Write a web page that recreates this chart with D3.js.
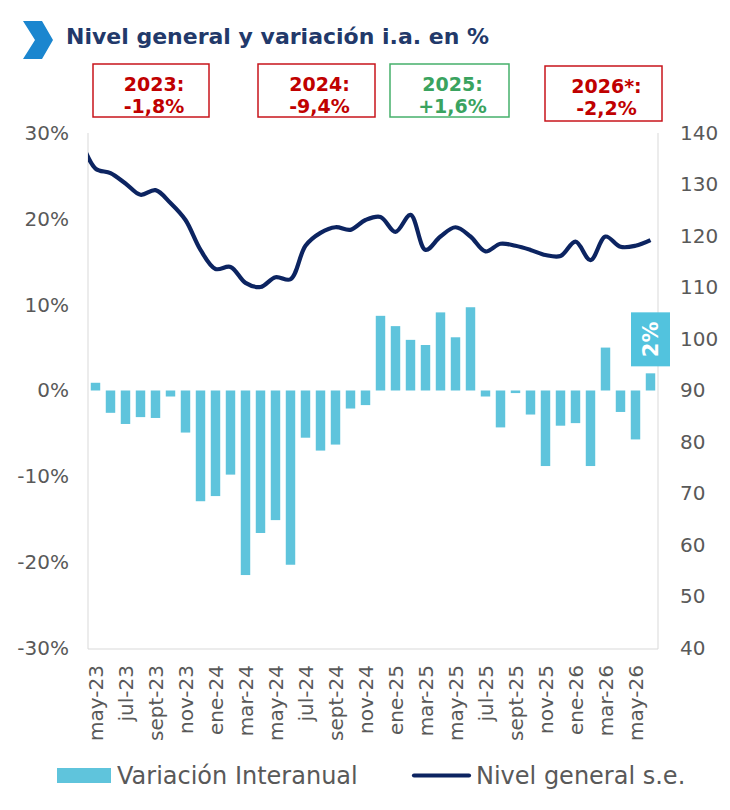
<!DOCTYPE html>
<html>
<head>
<meta charset="utf-8">
<script src="https://d3js.org/d3.v7.min.js"></script>
<style>
  html, body { margin: 0; padding: 0; background: #fff; }
  svg { display: block; font-family: "DejaVu Sans", sans-serif; }
</style>
</head>
<body>
<script>
// months shown on the category axis (every other one gets a label)
const months = [
  "may-23","jun-23","jul-23","ago-23","sept-23","oct-23","nov-23","dic-23",
  "ene-24","feb-24","mar-24","abr-24","may-24","jun-24","jul-24","ago-24","sept-24","oct-24","nov-24","dic-24",
  "ene-25","feb-25","mar-25","abr-25","may-25","jun-25","jul-25","ago-25","sept-25","oct-25","nov-25","dic-25",
  "ene-26","feb-26","mar-26","abr-26","may-26","jun-26"
];

// Variación interanual (%)
const variacion = [
  0.9, -2.6, -3.9, -3.1, -3.2, -0.7, -4.9, -12.9,
  -12.3, -9.8, -21.5, -16.6, -15.1, -20.3, -5.5, -7.0, -6.3, -2.1, -1.7, 8.7,
  7.5, 5.9, 5.3, 9.1, 6.2, 9.7, -0.7, -4.3, -0.3, -2.8, -8.8, -4.1,
  -3.8, -8.8, 5.0, -2.5, -5.7, 2.0
];

// Nivel general s.e. (índice), starts one month earlier (abr-23), clipped at the axis
const nivelStart = "abr-23";
const nivel = [
  138.8,
  133.1, 132.2, 130.2, 128.0, 128.9, 126.4, 123.1, 117.3,
  113.6, 114.0, 110.9, 110.1, 112.0, 111.6, 118.1, 120.6, 121.7, 121.2, 123.1, 123.7,
  120.8, 124.1, 117.3, 119.9, 121.7, 119.9, 117.0, 118.5, 118.1, 117.3, 116.3, 116.1,
  118.9, 115.3, 119.9, 117.9, 118.1, 119.2
];

const leftTicks = [-30, -20, -10, 0, 10, 20, 30];
const rightTicks = [40, 50, 60, 70, 80, 90, 100, 110, 120, 130, 140];

const yearBoxes = [
  {year: "2023:", value: "-1,8%", positive: false},
  {year: "2024:", value: "-9,4%", positive: false},
  {year: "2025:", value: "+1,6%", positive: true},
  {year: "2026*:", value: "-2,2%", positive: false}
];
// box left/right/top/bottom edges in the original layout
const boxEdges = [[93, 209, 64, 117], [258, 375, 64, 117], [390, 509, 64, 117], [545, 662, 66, 121]];

const width = 730, height = 810;
const plot = {left: 88, right: 658, top: 133, bottom: 648};

const barColor = "#5fc4dc";
const lineColor = "#0c2461";
const textColor = "#595959";
const frameColor = "#d9d9d9";

const svg = d3.select("body").append("svg")
  .attr("width", width)
  .attr("height", height);

// scales
const x = d3.scaleBand()
  .domain(months)
  .range([plot.left, plot.right])
  .paddingInner(0.37)
  .paddingOuter(0.185);

const xLine = d3.scalePoint()
  .domain([nivelStart].concat(months))
  .range([x(months[0]) + x.bandwidth() / 2 - x.step(), x(months[months.length - 1]) + x.bandwidth() / 2]);

const yL = d3.scaleLinear().domain([-30, 30]).range([plot.bottom, plot.top]);
const yR = d3.scaleLinear().domain([40, 140]).range([plot.bottom, plot.top]);

// title
svg.append("path")
  .attr("d", "M23,21 L42,21 L53,40 L42,59 L23,59 L35,40 Z")
  .attr("fill", "#1b86cf");
svg.append("text")
  .attr("x", 66).attr("y", 44)
  .attr("font-size", 22)
  .attr("font-weight", "bold")
  .attr("fill", "#22396a")
  .text("Nivel general y variación i.a. en %");

// year boxes
yearBoxes.forEach((b, i) => {
  const [x0, x1, y0, y1] = boxEdges[i];
  const col = b.positive ? "#3aa35f" : "#c00000";
  const g = svg.append("g");
  g.append("rect")
    .attr("x", x0).attr("y", y0)
    .attr("width", x1 - x0).attr("height", y1 - y0)
    .attr("fill", "#fff")
    .attr("stroke", b.positive ? "#46b06b" : "#c8141b")
    .attr("stroke-width", 1.5);
  const cx = (x0 + x1) / 2 + 3;
  g.append("text")
    .attr("x", cx).attr("y", y0 + 27)
    .attr("text-anchor", "middle")
    .attr("font-size", 19).attr("font-weight", "bold")
    .attr("fill", col)
    .text(b.year);
  g.append("text")
    .attr("x", cx).attr("y", y0 + 49)
    .attr("text-anchor", "middle")
    .attr("font-size", 19).attr("font-weight", "bold")
    .attr("fill", col)
    .text(b.value);
});

// frame
svg.append("line")
  .attr("x1", plot.left).attr("x2", plot.left)
  .attr("y1", plot.top).attr("y2", plot.bottom + 1)
  .attr("stroke", frameColor);
svg.append("line")
  .attr("x1", plot.right).attr("x2", plot.right)
  .attr("y1", plot.top).attr("y2", plot.bottom + 1)
  .attr("stroke", frameColor);
svg.append("line")
  .attr("x1", plot.left).attr("x2", plot.right)
  .attr("y1", plot.bottom + 1).attr("y2", plot.bottom + 1)
  .attr("stroke", frameColor);

// left axis
const leftAxis = svg.append("g")
  .attr("transform", `translate(${plot.left - 19},0)`)
  .call(d3.axisLeft(yL).tickValues(leftTicks).tickSize(0).tickFormat(d => d + "%"));
leftAxis.select(".domain").remove();
leftAxis.selectAll("text")
  .attr("font-family", "DejaVu Sans, sans-serif")
  .attr("font-size", 20)
  .attr("fill", textColor)
  .attr("x", 0);

// right axis
const rightAxis = svg.append("g")
  .attr("transform", `translate(${plot.right + 22},0)`)
  .call(d3.axisRight(yR).tickValues(rightTicks).tickSize(0));
rightAxis.select(".domain").remove();
rightAxis.selectAll("text")
  .attr("font-family", "DejaVu Sans, sans-serif")
  .attr("font-size", 20)
  .attr("fill", textColor)
  .attr("x", 0);

// x axis labels
const bottomAxis = svg.append("g")
  .attr("transform", `translate(0,${plot.bottom + 17})`)
  .call(d3.axisBottom(x)
    .tickValues(months.filter((m, i) => i % 2 === 0))
    .tickSize(0));
bottomAxis.select(".domain").remove();
bottomAxis.selectAll("text")
  .attr("font-family", "DejaVu Sans, sans-serif")
  .attr("font-size", 20)
  .attr("fill", textColor)
  .attr("text-anchor", "end")
  .attr("transform", "rotate(-90)")
  .attr("x", 0)
  .attr("y", 0)
  .attr("dy", "0.36em");

// bars
svg.append("g").selectAll("rect")
  .data(variacion)
  .join("rect")
  .attr("x", (d, i) => x(months[i]))
  .attr("width", x.bandwidth())
  .attr("y", d => yL(Math.max(0, d)))
  .attr("height", d => Math.abs(yL(d) - yL(0)))
  .attr("fill", barColor);

// line (clipped to the plot area)
svg.append("clipPath").attr("id", "plotClip")
  .append("rect")
  .attr("x", plot.left).attr("y", 0)
  .attr("width", plot.right - plot.left).attr("height", height);

const lineDomain = [nivelStart].concat(months);
const line = d3.line()
  .x((d, i) => xLine(lineDomain[i]))
  .y(d => yR(d))
  .curve(d3.curveCatmullRom.alpha(0.5));

svg.append("path")
  .datum(nivel)
  .attr("clip-path", "url(#plotClip)")
  .attr("d", line)
  .attr("fill", "none")
  .attr("stroke", lineColor)
  .attr("stroke-width", 4.2)
  .attr("stroke-linejoin", "round");

// last value label
const lastI = variacion.length - 1;
const lastX = x(months[lastI]) + x.bandwidth() / 2;
const lastTop = yL(Math.max(0, variacion[lastI]));
const lab = svg.append("g")
  .attr("transform", `translate(${lastX},${lastTop - 7 - 27})`);
lab.append("rect")
  .attr("x", -19.5).attr("y", -27)
  .attr("width", 39).attr("height", 54)
  .attr("fill", "#52c3de");
lab.append("text")
  .attr("transform", "rotate(-90)")
  .attr("text-anchor", "middle")
  .attr("dy", "0.36em")
  .attr("font-size", 21)
  .attr("font-weight", "bold")
  .attr("fill", "#fff")
  .text(Math.round(variacion[lastI]) + "%");

// legend
const leg = svg.append("g");
leg.append("rect")
  .attr("x", 57).attr("y", 768)
  .attr("width", 54).attr("height", 15)
  .attr("fill", barColor);
leg.append("text")
  .attr("x", 117).attr("y", 784)
  .attr("font-size", 24)
  .attr("fill", textColor)
  .text("Variación Interanual");
leg.append("line")
  .attr("x1", 414).attr("x2", 469)
  .attr("y1", 775.5).attr("y2", 775.5)
  .attr("stroke", lineColor)
  .attr("stroke-width", 4.2)
  .attr("stroke-linecap", "round");
leg.append("text")
  .attr("x", 476).attr("y", 784)
  .attr("font-size", 24)
  .attr("fill", textColor)
  .text("Nivel general s.e.");
</script>
</body>
</html>
